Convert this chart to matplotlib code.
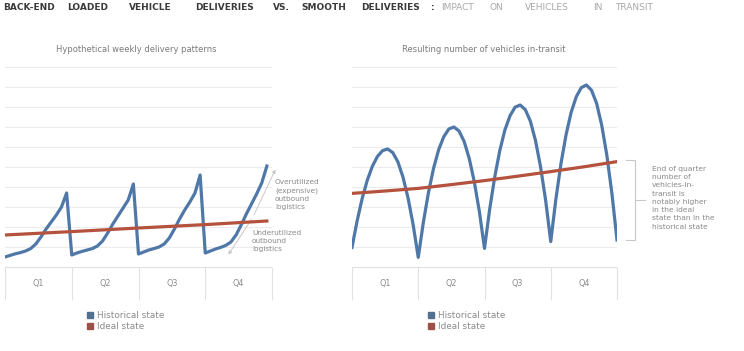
import matplotlib
matplotlib.use("Agg")
import matplotlib.pyplot as plt
from matplotlib.lines import Line2D

W, H = 744, 351

quarters = ["Q1", "Q2", "Q3", "Q4"]

# weekly delivery pattern (left), one list per quarter, 13 weeks each
deliv_q1 = [0.50, 0.58, 0.66, 0.72, 0.80, 0.92, 1.15, 1.50, 1.90, 2.25, 2.60, 3.00, 3.70]
deliv_q2 = [0.60, 0.70, 0.78, 0.85, 0.92, 1.05, 1.30, 1.70, 2.15, 2.55, 2.95, 3.35, 4.15]
deliv_q3 = [0.65, 0.75, 0.85, 0.92, 1.00, 1.15, 1.45, 1.90, 2.40, 2.85, 3.25, 3.70, 4.60]
deliv_q4 = [0.70, 0.80, 0.90, 0.98, 1.08, 1.25, 1.60, 2.10, 2.65, 3.15, 3.65, 4.20, 5.05]
deliv_ideal_wk = [0, 13, 26, 39, 51]
deliv_ideal = [1.60, 1.77, 1.95, 2.12, 2.30]

# vehicles in transit (right)
transit_q1 = [0.98, 2.30, 3.43, 4.34, 5.04, 5.53, 5.82, 5.90, 5.72, 5.26, 4.50, 3.45, 2.11]
transit_q2 = [0.48, 2.23, 3.72, 4.93, 5.86, 6.51, 6.90, 7.00, 6.80, 6.28, 5.43, 4.26, 2.76]
transit_q3 = [0.93, 2.86, 4.49, 5.82, 6.85, 7.56, 7.99, 8.10, 7.87, 7.29, 6.33, 5.01, 3.33]
transit_q4 = [1.27, 3.38, 5.16, 6.61, 7.73, 8.51, 8.97, 9.10, 8.84, 8.18, 7.09, 5.60, 3.68, 1.35]
transit_ideal_wk = [0, 6.5, 13, 19.5, 26, 32.5, 39, 45.5, 52]
transit_ideal = [3.68, 3.80, 3.93, 4.12, 4.32, 4.54, 4.77, 5.01, 5.27]

# title words, spread out like the letter-spaced original (word centres, px)
title_words = ["BACK-END", "LOADED", "VEHICLE", "DELIVERIES", "VS.", "SMOOTH", "DELIVERIES", ":"]
title_x = [29, 88, 150, 225, 281, 324, 391, 433]
sub_words = ["IMPACT", "ON", "VEHICLES", "IN", "TRANSIT"]
sub_x = [457, 496, 547, 598, 634]

BLUE = "#4f78a8"
RED = "#b5523e"
GRID = "#ececec"
GRAY = "#8a8a8a"


def px(x, y):
    return x / W, 1 - y / H


fig = plt.figure(figsize=(W / 100, H / 100), dpi=100)


def make_ax(x0, x1):
    ax = fig.add_axes([x0 / W, (H - 300) / H, (x1 - x0) / W, 240 / H])
    ax.set_xlim(0, 52)
    ax.set_ylim(-1.65, 10.35)
    ax.set_yticks(range(0, 11))
    ax.set_xticks([])
    ax.tick_params(length=0, labelleft=False)
    ax.grid(axis="y", color=GRID, lw=0.8)
    ax.set_axisbelow(True)
    for s in ax.spines.values():
        s.set_visible(False)
    # quarter row
    ax.axhline(0, color="#e2e2e2", lw=0.8)
    ax.vlines([0, 13, 26, 39, 52], -1.65, 0, color="#e2e2e2", lw=0.8, clip_on=False)
    for i, q in enumerate(quarters):
        ax.text(13 * i + 6.5, -0.82, q, ha="center", va="center",
                fontsize=5.8, color=GRAY)
    return ax


ax1 = make_ax(5, 272)
hist_left = deliv_q1 + deliv_q2 + deliv_q3 + deliv_q4
ax1.plot(range(len(hist_left)), hist_left, color=BLUE, lw=2.3, zorder=3,
         solid_joinstyle="round")
ax1.plot(deliv_ideal_wk, deliv_ideal, color=RED, lw=2.3, zorder=4)

# over / under utilised arrows
arr = dict(arrowstyle="-|>", color="#c8c8c8", lw=0.7, mutation_scale=5)
ax1.annotate("", xy=(52.9, 5.0), xytext=(48.3, 2.5), arrowprops=arr,
             annotation_clip=False)
ax1.annotate("", xy=(43.2, 0.5), xytext=(48.3, 2.5), arrowprops=arr,
             annotation_clip=False)

ax2 = make_ax(352, 617)
hist_right = transit_q1 + transit_q2 + transit_q3 + transit_q4
ax2.plot(range(len(hist_right)), hist_right, color=BLUE, lw=2.3, zorder=3,
         solid_joinstyle="round")
ax2.plot(transit_ideal_wk, transit_ideal, color=RED, lw=2.3, zorder=4)

# titles
for w, x in zip(title_words, title_x):
    fig.text(*px(x, 8), w, fontsize=6.5, fontweight="bold", color="#3a3a3a",
             ha="center", va="center")
for w, x in zip(sub_words, sub_x):
    fig.text(*px(x, 8), w, fontsize=6.5, color="#a8a8a8", ha="center",
             va="center")
fig.text(*px(136, 50), "Hypothetical weekly delivery patterns", fontsize=6,
         color="#7a7a7a", ha="center", va="center")
fig.text(*px(484, 50), "Resulting number of vehicles in-transit", fontsize=6,
         color="#7a7a7a", ha="center", va="center")

# side notes
fig.text(*px(275, 179), "Overutilized\n(expensive)\noutbound\nlogistics",
         fontsize=5.3, color=GRAY, va="top", linespacing=1.45)
fig.text(*px(252, 230), "Underutilized\noutbound\nlogistics",
         fontsize=5.3, color=GRAY, va="top", linespacing=1.45)
fig.text(*px(652, 166),
         "End of quarter\nnumber of\nvehicles-in-\ntransit is\nnotably higher\n"
         "in the ideal\nstate than in the\nhistorical state",
         fontsize=5.4, color=GRAY, va="top", linespacing=1.45)

# bracket
bx = [px(626, 160), px(635, 160), px(635, 240), px(626, 240)]
fig.add_artist(Line2D([p[0] for p in bx], [p[1] for p in bx],
                      color="#c8c8c8", lw=0.8))
tk = [px(635, 200), px(645, 200)]
fig.add_artist(Line2D([p[0] for p in tk], [p[1] for p in tk],
                      color="#c8c8c8", lw=0.8))

# legends
handles = [Line2D([], [], marker="s", ls="", color="#52708f", markersize=4),
           Line2D([], [], marker="s", ls="", color="#9b5148", markersize=4)]
labels = ["Historical state", "Ideal state"]
for x in (82, 423):
    fig.legend(handles, labels, loc="upper left", bbox_to_anchor=px(x, 307),
               frameon=False, fontsize=6.4, labelcolor=GRAY, handlelength=0.8,
               handletextpad=0.4, labelspacing=0.15, borderpad=0)

fig.savefig("out.png", dpi=100, facecolor="white")
